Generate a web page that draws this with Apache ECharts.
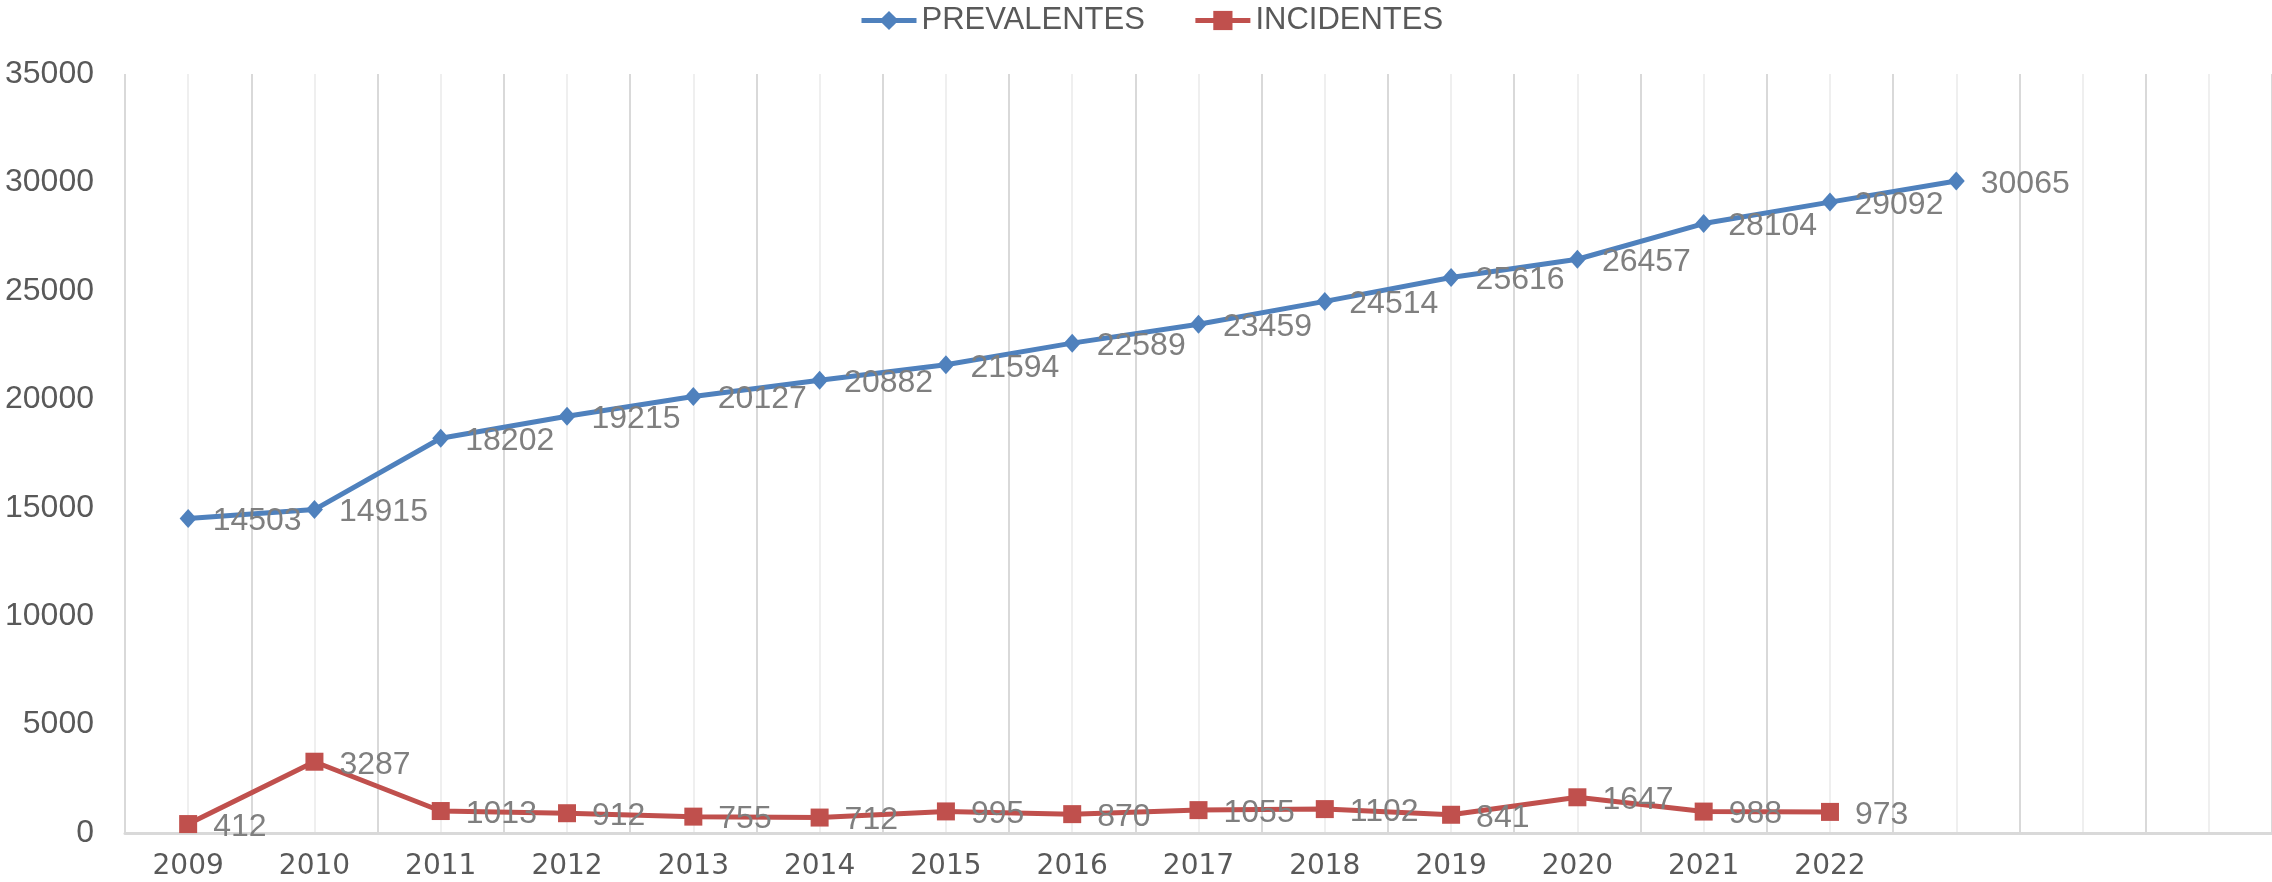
<!DOCTYPE html>
<html>
<head>
<meta charset="utf-8">
<script src="https://cdn.jsdelivr.net/npm/echarts@6/dist/echarts.min.js"></script>
<style>
  html, body { margin: 0; padding: 0; background: #fff; }
  #chart { width: 2272px; height: 882px; }
</style>
</head>
<body>
<div id="chart"></div>
<script>
// categorias del eje x (las tres ultimas sin etiqueta)
const years = ['2009', '2010', '2011', '2012', '2013', '2014', '2015', '2016',
  '2017', '2018', '2019', '2020', '2021', '2022', '', '', ''];
const prevalentes = [14503, 14915, 18202, 19215, 20127, 20882, 21594, 22589,
  23459, 24514, 25616, 26457, 28104, 29092, 30065];
const incidentes = [412, 3287, 1013, 912, 755, 712, 995, 870,
  1055, 1102, 841, 1647, 988, 973];
const yTicks = [0, 5000, 10000, 15000, 20000, 25000, 30000, 35000];

const chart = echarts.init(document.getElementById('chart'));

const labelStyle = {
  show: true,
  position: 'right',
  distance: 16,
  offset: [0, 3],
  fontFamily: 'Liberation Sans',
  fontSize: 32,
  color: '#7f7f7f'
};

const option = {
  animation: false,
  backgroundColor: '#fff',
  legend: {
    top: 0,
    left: 854,
    itemWidth: 55,
    itemHeight: 24,
    itemGap: 48,
    lineStyle: { width: 5 },
    textStyle: { fontFamily: 'Liberation Sans', fontSize: 31, color: '#595959' },
    data: ['PREVALENTES', 'INCIDENTES']
  },
  grid: { left: 125, right: -2, top: 74, bottom: 49, containLabel: false },
  xAxis: [
    {
      type: 'category',
      data: years,
      boundaryGap: true,
      axisLine: { lineStyle: { color: '#d9d9d9', width: 3 } },
      axisTick: { show: false },
      axisLabel: {
        interval: 0,
        margin: 20,
        fontFamily: 'DejaVu Sans',
        fontSize: 28,
        color: '#595959'
      },
      splitLine: { show: true, interval: 0, lineStyle: { color: '#d9d9d9', width: 2 } }
    },
    {
      // lineas secundarias en el centro de cada categoria
      type: 'value',
      min: 0,
      max: years.length,
      interval: 0.5,
      position: 'top',
      axisLine: { show: false },
      axisTick: { show: false },
      axisLabel: { show: false },
      splitLine: { show: true, lineStyle: { color: ['rgba(0,0,0,0)', '#efefef'], width: 2 } }
    }
  ],
  yAxis: {
    type: 'value',
    min: yTicks[0],
    max: yTicks[yTicks.length - 1],
    interval: 5000,
    axisLine: { show: false },
    axisTick: { show: false },
    splitLine: { show: false },
    axisLabel: {
      margin: 31,
      fontFamily: 'Liberation Sans',
      fontSize: 32,
      color: '#595959',
      formatter: (v) => '{n|' + v + '}',
      rich: {
        n: { width: 90, align: 'right', fontFamily: 'Liberation Sans', fontSize: 32, color: '#595959' }
      }
    }
  },
  series: [
    {
      name: 'PREVALENTES',
      type: 'line',
      xAxisIndex: 0,
      data: prevalentes,
      symbol: 'diamond',
      symbolSize: [17, 19],
      itemStyle: { color: '#4f81bd' },
      lineStyle: { color: '#4f81bd', width: 5 },
      label: labelStyle,
      z: 3
    },
    {
      name: 'INCIDENTES',
      type: 'line',
      xAxisIndex: 0,
      data: incidentes,
      symbol: 'rect',
      symbolSize: 18,
      itemStyle: { color: '#c0504d' },
      lineStyle: { color: '#c0504d', width: 5 },
      label: labelStyle,
      z: 3
    }
  ]
};

chart.setOption(option);
</script>
</body>
</html>
